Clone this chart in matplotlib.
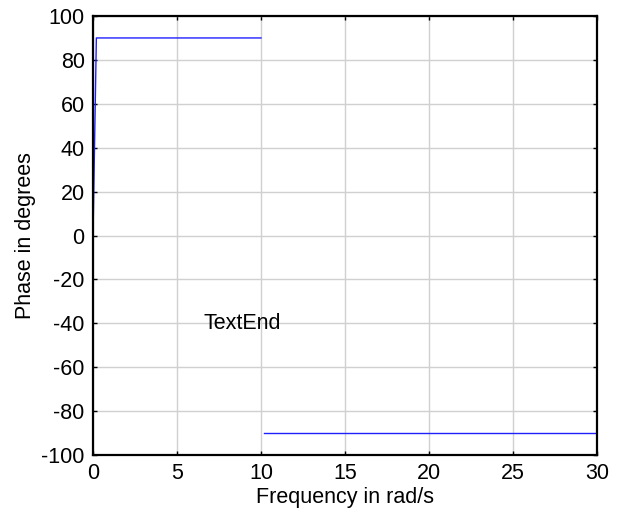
import numpy as np
from matplotlib import pyplot as plt

plt.rcParams['font.family'] = ['Liberation Sans', 'DejaVu Sans']
plt.rcParams['axes.unicode_minus'] = False

# phase response
freq_pos = [0.0, 0.2, 10.0]
phase_pos = [0.0, 90.0, 90.0]
freq_neg = [10.2, 30.0]
phase_neg = [-90.0, -90.0]

xticks = [0, 5, 10, 15, 20, 25, 30]
yticks = [-100, -80, -60, -40, -20, 0, 20, 40, 60, 80, 100]

fig = plt.figure(figsize=(6.18, 5.16), dpi=100)
ax = fig.add_axes([0.1505, 0.118, 0.8155, 0.851])

ax.plot(freq_pos, phase_pos, color='#2020ff', lw=1.0)
ax.plot(freq_neg, phase_neg, color='#2020ff', lw=1.0)

ax.set_xlim(0, 30)
ax.set_ylim(-100, 100)
ax.set_xticks(xticks)
ax.set_yticks(yticks)
ax.grid(True, color='#d0d0d0', lw=1.0)
ax.set_axisbelow(True)

for s in ax.spines.values():
    s.set_linewidth(1.6)
ax.tick_params(direction='in', length=3, width=1, top=True, right=True,
               labelsize=15.5)
ax.tick_params(axis='x', pad=6)
ax.tick_params(axis='y', pad=6)

ax.set_xlabel('Frequency in rad/s', fontsize=15.5, labelpad=2)
ax.set_ylabel('Phase in degrees', fontsize=15.5, labelpad=4)
ax.text(6.6, -40, 'TextEnd', fontsize=15.5, va='center', ha='left')

fig.savefig('out.png', dpi=100)
